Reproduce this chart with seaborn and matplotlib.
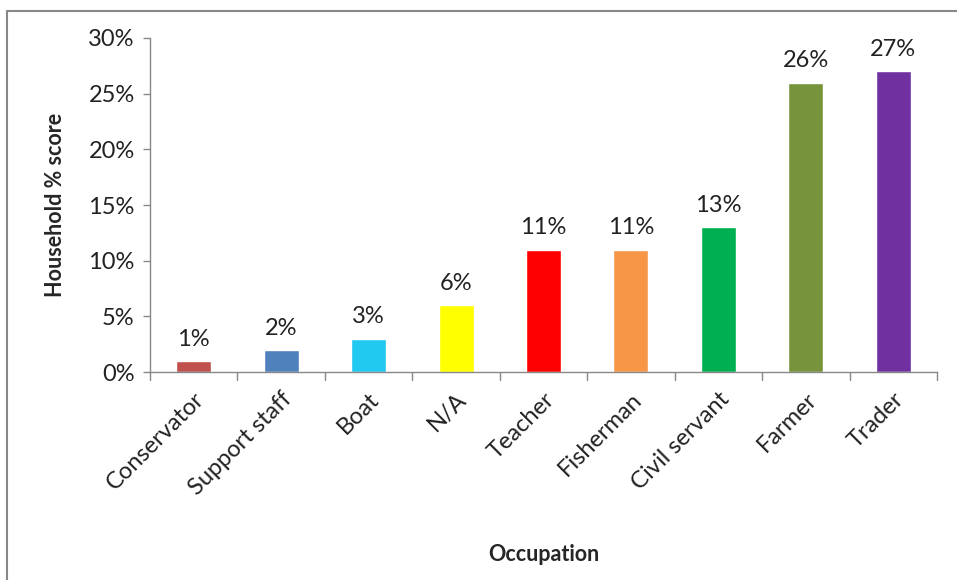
import matplotlib
matplotlib.use('Agg')
import matplotlib.pyplot as plt
import seaborn as sns
import pandas as pd
from matplotlib.lines import Line2D
from matplotlib.ticker import PercentFormatter

# data
occupations = ['Conservator', 'Support staff', 'Boat', 'N/A', 'Teacher',
               'Fisherman', 'Civil servant', 'Farmer', 'Trader']
scores = [1, 2, 3, 6, 11, 11, 13, 26, 27]
bar_colors = ['#C0504D', '#4F81BD', '#21C8EF', '#FFFF00', '#FF0000',
              '#F79646', '#00B050', '#77933C', '#7030A0']

sns.set_style('white')
plt.rcParams['font.family'] = ['Lato', 'DejaVu Sans']

df = pd.DataFrame({'Occupation': occupations, 'score': scores})

fig = plt.figure(figsize=(9.57, 5.8), dpi=100)
ax = fig.add_axes([0.1567, 0.3586, 0.8224, 0.5759])

sns.barplot(data=df, x='Occupation', y='score', hue='Occupation',
            palette=bar_colors, width=0.4, saturation=1, legend=False, ax=ax)

for c in ax.containers:
    ax.bar_label(c, fmt='%d%%', padding=8, fontsize=17, color='#222222')

ax.set_ylim(0, 30)
ax.set_xlim(-0.5, 8.5)
ax.set_yticks(range(0, 31, 5))
ax.yaxis.set_major_formatter(PercentFormatter(decimals=0))
ax.tick_params(axis='y', labelsize=17, length=5, width=1, color='#888888',
               left=True, pad=6, labelcolor='#222222')

# category boundary ticks, Excel style
ax.set_xticks(range(len(occupations)))
ax.set_xticklabels(occupations, rotation=45, ha='right',
                   rotation_mode='anchor', fontsize=17, color='#222222')
ax.tick_params(axis='x', length=0, pad=12)
for b in [i - 0.5 for i in range(len(occupations) + 1)]:
    ax.plot([b, b], [0, -0.025], transform=ax.get_xaxis_transform(),
            color='#888888', lw=1, clip_on=False)

for s in ['top', 'right']:
    ax.spines[s].set_visible(False)
for s in ['left', 'bottom']:
    ax.spines[s].set_color('#888888')
    ax.spines[s].set_linewidth(1)

ax.set_ylabel('Household % score', fontsize=15.5, fontweight='bold', labelpad=16)
ax.set_xlabel('Occupation', fontsize=15.5, fontweight='bold')
ax.xaxis.set_label_coords(0.5, -0.515)

# outer chart frame (left and top only visible)
fig.add_artist(Line2D([7 / 957, 7 / 957], [0, 1 - 11 / 580],
                      color='#888888', lw=1.5, transform=fig.transFigure))
fig.add_artist(Line2D([7 / 957, 1], [1 - 11 / 580, 1 - 11 / 580],
                      color='#888888', lw=1.5, transform=fig.transFigure))

fig.savefig('out.png', dpi=100)
